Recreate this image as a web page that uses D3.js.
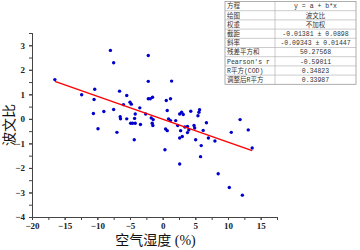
<!DOCTYPE html>
<html>
<head>
<meta charset="utf-8">
<script src="https://cdn.jsdelivr.net/npm/d3@7"></script>
<style>
  html, body { margin: 0; padding: 0; background: #fff; }
  svg { display: block; }
</style>
</head>
<body>
<div id="chart"></div>
<script>
const humidity = [-16.5, -12.4, -10.4, -10.5, -10.6, -9.9, -9.0, -8.0, -7.5, -7.5, -7.0, -6.6, -6.0, -5.5, -6.5, -6.45, -5.5, -5.0, -4.8, -4.9,
  -4.6, -4.2, -4.3, -4.2, -3.5, -3.4, -4.35, -2.2, -2.2, -2.2, -1.9, -1.55, -2.6, -1.75, -1.45, -1.6, -1.5, 0.55, 1.37, 1.2,
  0.7, 0.9, 1.2, 0.45, 0.7, 0.35, 2.0, 2.3, 2.6, 2.9, 3.15, 2.75, 2.6, 2.6, 3.0, 3.8, 4.0, 4.8, 4.9, 5.4,
  5.55, 5.65, 4.3, 5.05, 5.9, 5.8, 6.2, 6.7, 7.0, 8.0, 8.5, 10.2, 12.2, 10.5, 11.85, 13.1, 13.7, 3.4, 3.8];
const bowen = [1.6, 0.98, 1.21, 0.79, 0.22, -0.4, 0.3, 2.79, 2.29, 0.38, -0.55, 1.13, 0.58, 0.95, 0.09, 0.0, 0.0, 0.68, 0.6, -0.18,
  -0.18, -0.18, 0.02, 0.2, 0.45, -0.23, -0.85, 2.58, 1.53, 0.82, 0.82, 0.88, 0.2, 0.04, -0.03, -0.18, -0.27, 0.75, 1.54, 0.82,
  0.34, 0.0, -0.07, -0.41, -0.48, -1.26, -0.07, -0.27, 0.2, 0.27, 0.18, -0.48, -0.78, -1.84, -0.72, -0.31, -0.45, -0.27, -0.37, 0.13,
  0.27, 0.37, 0.31, -0.85, -1.09, -1.54, -0.47, -0.16, -0.78, -0.9, -2.24, -2.8, -3.11, -0.55, -0.03, -0.45, -1.19, -0.33, -0.56];
const intercept = -0.01381;
const slope = -0.09343;
const xTicks = [-20, -15, -10, -5, 0, 5, 10, 15];
const yTicks = [-4, -3, -2, -1, 0, 1, 2, 3];
const tableLabels = ["方程", "绘图", "权重", "截距", "斜率", "残差平方和", "Pearson's r", "R平方(COD)", "调整后R平方"];
const tableValues = ["y = a + b*x", "波文比", "不加权", "-0.01381 ± 0.0898", "-0.09343 ± 0.01447", "50.27568", "-0.59011", "0.34823", "0.33987"];

const width = 360;
const height = 250;
const margin = { top: 33, right: 83, bottom: 33, left: 32 };
const serif = "'Liberation Serif', 'DejaVu Serif', 'Noto Sans CJK SC', serif";
const cjk = "'Liberation Serif', 'Noto Sans CJK SC', serif";
const mono = "'Liberation Mono', 'Noto Sans CJK SC', monospace";

const svg = d3.select("#chart").append("svg").attr("width", width).attr("height", height);

const x = d3.scaleLinear().domain([-20, 17.5]).range([margin.left, width - margin.right]);
const y = d3.scaleLinear().domain([-4, 3.5]).range([height - margin.bottom, margin.top]);
const minus = (d) => (d < 0 ? "\u2212" + Math.abs(d) : String(d));

// minor ticks
svg.append("g")
  .attr("transform", `translate(0,${height - margin.bottom})`)
  .call(d3.axisBottom(x).tickValues(d3.range(-20, 17.6, 2.5)).tickSize(3).tickFormat(""))
  .call((axis) => axis.selectAll("path,line").attr("stroke", "#444"));
svg.append("g")
  .attr("transform", `translate(${margin.left},0)`)
  .call(d3.axisLeft(y).tickValues(d3.range(-4, 3.51, 0.5)).tickSize(3).tickFormat(""))
  .call((axis) => axis.selectAll("path,line").attr("stroke", "#444"));

svg.append("g")
  .attr("transform", `translate(0,${height - margin.bottom})`)
  .call(d3.axisBottom(x).tickValues(xTicks).tickSize(3).tickPadding(3).tickFormat(minus))
  .call((axis) => axis.selectAll("path,line").attr("stroke", "#444"))
  .call((axis) => axis.selectAll("text").attr("fill", "#222").attr("font-family", serif).attr("font-size", 9).attr("font-weight", "bold"));

svg.append("g")
  .attr("transform", `translate(${margin.left},0)`)
  .call(d3.axisLeft(y).tickValues(yTicks).tickSize(3).tickPadding(4).tickFormat(minus))
  .call((axis) => axis.selectAll("path,line").attr("stroke", "#444"))
  .call((axis) => axis.selectAll("text").attr("fill", "#222").attr("font-family", serif).attr("font-size", 9).attr("font-weight", "bold"));

const points = humidity.map((h, i) => ({ x: h, y: bowen[i] }));
const xMin = d3.min(humidity);
const xMax = d3.max(humidity);

svg.append("g")
  .selectAll("circle")
  .data(points)
  .join("circle")
  .attr("cx", (d) => x(d.x))
  .attr("cy", (d) => y(d.y))
  .attr("r", 1.7)
  .attr("fill", "#0000cc");

svg.append("line")
  .attr("x1", x(xMin))
  .attr("y1", y(intercept + slope * xMin))
  .attr("x2", x(xMax))
  .attr("y2", y(intercept + slope * xMax))
  .attr("stroke", "#ff0000")
  .attr("stroke-width", 1.5);

svg.append("text")
  .attr("transform", `translate(14,${(margin.top + height - margin.bottom) / 2}) rotate(-90)`)
  .attr("text-anchor", "middle")
  .attr("font-family", cjk)
  .attr("font-size", 14)
  .attr("fill", "#111")
  .text("波文比");

svg.append("text")
  .attr("x", (margin.left + width - margin.right) / 2 + 1)
  .attr("y", height - 5)
  .attr("text-anchor", "middle")
  .attr("font-family", cjk)
  .attr("font-size", 14)
  .attr("fill", "#111")
  .text("空气湿度 (%)");

// stats table
const tableX = 225;
const tableMid = 275;
const tableRight = 356;
const rowH = 9.2;
const tableTop = 1.5;
const table = svg.append("g");
table.append("rect")
  .attr("x", tableX).attr("y", tableTop)
  .attr("width", tableRight - tableX).attr("height", rowH * tableLabels.length)
  .attr("fill", "#fff").attr("stroke", "#999").attr("stroke-width", 0.8);
table.selectAll("line.row")
  .data(d3.range(1, tableLabels.length))
  .join("line")
  .attr("x1", tableX).attr("x2", tableRight)
  .attr("y1", (d) => tableTop + d * rowH).attr("y2", (d) => tableTop + d * rowH)
  .attr("stroke", "#aaa").attr("stroke-width", 0.6);
table.append("line")
  .attr("x1", tableMid).attr("x2", tableMid)
  .attr("y1", tableTop).attr("y2", tableTop + rowH * tableLabels.length)
  .attr("stroke", "#aaa").attr("stroke-width", 0.6);
table.selectAll("text.label")
  .data(tableLabels)
  .join("text")
  .attr("x", tableX + 2)
  .attr("y", (d, i) => tableTop + i * rowH + rowH / 2)
  .attr("dy", "0.35em")
  .attr("font-family", mono)
  .attr("font-size", 6.5)
  .attr("fill", "#333")
  .text((d) => d);
table.selectAll("text.value")
  .data(tableValues)
  .join("text")
  .attr("x", (tableMid + tableRight) / 2)
  .attr("y", (d, i) => tableTop + i * rowH + rowH / 2)
  .attr("dy", "0.35em")
  .attr("text-anchor", "middle")
  .attr("font-family", mono)
  .attr("font-size", 6.5)
  .attr("fill", "#333")
  .text((d) => d);
</script>
</body>
</html>
